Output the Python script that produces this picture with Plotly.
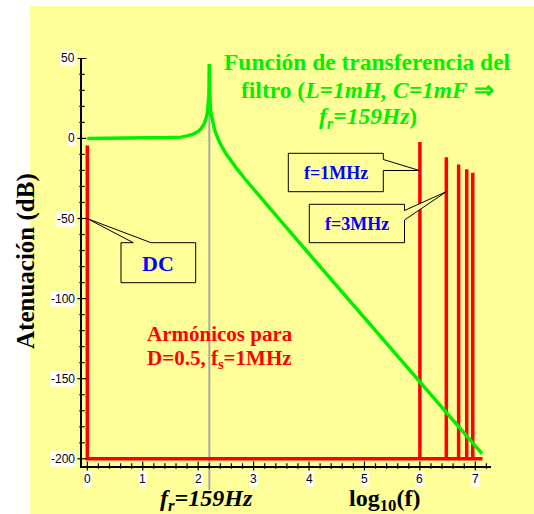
import plotly.graph_objects as go

# ---------------- data ----------------
curve_logf = [0.0, 1.0, 1.42, 1.45, 1.70, 1.75, 1.90, 2.00, 2.05, 2.10, 2.14, 2.17,
              2.185, 2.195, 2.200, 2.205, 2.215, 2.23, 2.26, 2.30, 2.35, 2.40, 2.50,
              2.60, 2.70, 2.85, 3.00, 3.50, 4.00, 4.50, 5.00, 5.50, 6.00, 6.50, 7.00, 7.12]
curve_db = [0.0, 0.0, 0.2, 0.5, 0.8, 1.3, 2.5, 4.3, 6.0, 8.6, 12.2, 16.5,
            21.0, 28.0, 46.5, 30.0, 22.0, 16.0, 10.5, 5.0, 0.5, -3.5, -9.5,
            -14.5, -19.0, -25.5, -31.8, -52.0, -72.0, -92.0, -112.0, -132.0, -152.0, -172.0, -192.0, -196.8]

harm_logf = [0.0, 6.0, 6.477, 6.699, 6.845, 6.954]     # DC, 1, 3, 5, 7, 9 MHz
harm_db = [-4.5, -2.3, -11.8, -16.3, -19.2, -21.4]
baseline_db = -200
baseline_end = 7.13
fr_logf = 2.2014

xtick_vals = [0, 1, 2, 3, 4, 5, 6, 7]
ytick_vals = [50, 0, -50, -100, -150, -200]
xminor_step = 0.2
yminor_step = 10

# ---------------- layout helpers ----------------
W, H = 534, 514
ML, MR, MT, MB = 82, 43, 58, 48
PW, PH = W - ML - MR, H - MT - MB
YELLOW = "#FFFF99"
GREEN = "#00F000"
RED = "#FF0000"
BLUE = "#0000FF"
SERIF = "Liberation Serif, Times New Roman, serif"
xr = [-0.096, 7.283]
yr = [-204.5, 50.2]


def px(x):
    return (x - ML) / PW


def py(y):
    return (H - MB - y) / PH


# red spectrum polyline built from harmonic data
rx = [harm_logf[0], harm_logf[0]]
ry = [harm_db[0], baseline_db]
for x, y in zip(harm_logf[1:], harm_db[1:]):
    rx += [x, x, x]
    ry += [baseline_db, y, baseline_db]
rx.append(baseline_end)
ry.append(baseline_db)

fig = go.Figure()
fig.add_trace(go.Scatter(x=rx, y=ry, mode="lines",
                         line=dict(color=RED, width=3.5), hoverinfo="skip"))
fig.add_trace(go.Scatter(x=curve_logf, y=curve_db, mode="lines",
                         line=dict(color=GREEN, width=3.5), hoverinfo="skip"))

axis_style = dict(showgrid=False, zeroline=False, showticklabels=False, ticks="",
                  tickmode="array", tickvals=[],
                  showline=True, linecolor="black", linewidth=1.5)
fig.update_layout(
    width=W, height=H,
    margin=dict(l=ML, r=MR, t=MT, b=MB, pad=0),
    paper_bgcolor=YELLOW, plot_bgcolor=YELLOW,
    showlegend=False,
    xaxis=dict(range=xr, **axis_style),
    yaxis=dict(range=yr, **axis_style),
)

shapes = []
# white strips outside the yellow slide area
shapes.append(dict(type="rect", xref="paper", yref="paper", x0=px(-10), x1=px(30),
                   y0=py(H + 10), y1=py(-10), fillcolor="white", line=dict(width=0), layer="below"))
shapes.append(dict(type="rect", xref="paper", yref="paper", x0=px(-10), x1=px(W + 10),
                   y0=py(6), y1=py(-10), fillcolor="white", line=dict(width=0), layer="below"))
# resonance marker
shapes.append(dict(type="line", xref="x", yref="paper", x0=fr_logf, x1=fr_logf,
                   y0=py(490), y1=py(105), line=dict(color="#A8A8A8", width=2), layer="below"))

# crossing tick marks on both axes
xminor = [round(i * xminor_step, 3) for i in range(int(xr[1] / xminor_step) + 1)]
xminor = [v for v in xminor if v not in xtick_vals]
yminor = [v for v in range(50, -201, -yminor_step) if v not in ytick_vals]
TICK = dict(color="black", width=1.2)
for vals, half in ((xtick_vals, 4.5), (xminor, 2.7)):
    for v in vals:
        shapes.append(dict(type="line", xref="x", yref="paper", x0=v, x1=v,
                           y0=-half / PH, y1=half / PH, line=TICK, layer="above"))
for vals, half in ((ytick_vals, 4.5), (yminor, 2.7)):
    for v in vals:
        shapes.append(dict(type="line", xref="paper", yref="y", x0=-half / PW, x1=half / PW,
                           y0=v, y1=v, line=TICK, layer="above"))


def callout(points):
    d = "M " + " L ".join(f"{px(a):.5f},{py(b):.5f}" for a, b in points) + " Z"
    return dict(type="path", xref="paper", yref="paper", path=d, fillcolor=YELLOW,
                line=dict(color="black", width=1), layer="above")


shapes.append(callout([(121, 242.7), (133.3, 242.7), (87.3, 218.6), (151, 242.7),
                       (195.7, 242.7), (195.7, 282.7), (121, 282.7)]))
shapes.append(callout([(288.3, 153.3), (383.3, 153.3), (383.3, 159.5), (419.5, 170.5),
                       (383.3, 170.5), (383.3, 191.7), (288.3, 191.7)]))
shapes.append(callout([(309.3, 204.3), (404.5, 204.3), (404.5, 210.5), (446.3, 191.7),
                       (404.5, 220), (404.5, 242.7), (309.3, 242.7)]))
fig.update_layout(shapes=shapes)

ann = []
for v in ytick_vals:
    ann.append(dict(x=0, xref="paper", y=v, yref="y", xanchor="right", yanchor="middle",
                    xshift=-6, text=str(v), showarrow=False, bgcolor="white", borderpad=0,
                    font=dict(family="Arial", size=12, color="black")))
for v in xtick_vals:
    ann.append(dict(x=v, xref="x", y=0, yref="paper", xanchor="center", yanchor="top",
                    yshift=-5, text=str(v), showarrow=False, bgcolor="white", borderpad=0,
                    font=dict(family="Arial", size=12, color="black")))


def txt(x, y, s, size, color, xanchor="center", angle=0):
    ann.append(dict(x=px(x), y=py(y), xref="paper", yref="paper", text=s, showarrow=False,
                    xanchor=xanchor, yanchor="middle", textangle=angle,
                    font=dict(family=SERIF, size=size, color=color)))


txt(367.5, 62, "<b>Función de transferencia del</b>", 23.5, GREEN)
txt(367.5, 90, "<b>filtro (<i>L=1mH, C=1mF</i> ⇒</b>", 23.5, GREEN)
txt(367.5, 118, "<b><i>f<sub>r</sub>=159Hz</i>)</b>", 23.5, GREEN)
txt(158, 263, "<b>DC</b>", 22, BLUE)
txt(336, 172.5, "<b>f=1MHz</b>", 18, BLUE)
txt(357, 223.5, "<b>f=3MHz</b>", 18, BLUE)
txt(145, 334, "<b>Armónicos para</b>", 21, RED, xanchor="left")
txt(145, 359, "<b>D=0.5, f<sub>s</sub>=1MHz</b>", 21, RED, xanchor="left")
txt(206, 500, "<b><i>f<sub>r</sub>=159Hz</i></b>", 24, "black")
txt(384, 500, "<b>log<sub>10</sub>(f)</b>", 24, "black")
txt(26, 261, "<b>Atenuación (dB)</b>", 25, "black", angle=-90)
fig.update_layout(annotations=ann)

fig.write_html("out.html")
